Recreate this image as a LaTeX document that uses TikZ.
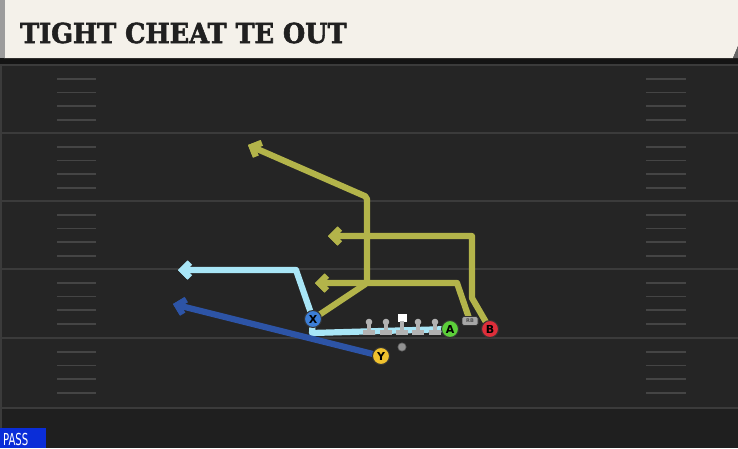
\documentclass[tikz,border=0pt]{standalone}
\usepackage{fontspec}
\setmainfont{DejaVu Sans}
\newfontfamily\titlefont{DejaVu Serif}[BoldFeatures={FakeBold=2.2}]
\newfontfamily\condfont{DejaVu Sans Condensed}
\usetikzlibrary{arrows.meta}
\definecolor{fieldc}{HTML}{252525}
\definecolor{bottomc}{HTML}{1F1F1F}
\definecolor{creamc}{HTML}{F4F1EA}
\definecolor{stripc}{HTML}{9C9C9C}
\definecolor{yardc}{HTML}{3B3B3B}
\definecolor{hashc}{HTML}{454545}
\definecolor{titlec}{HTML}{202020}
\definecolor{lblue}{HTML}{A9E6F7}
\definecolor{dblue}{HTML}{2D54A6}
\definecolor{olivec}{HTML}{B3B44A}
\definecolor{xcol}{HTML}{3C7ED6}
\definecolor{acol}{HTML}{5CCF3A}
\definecolor{bcol}{HTML}{DE2E3A}
\definecolor{ycol}{HTML}{F0C22E}
\definecolor{linec}{HTML}{B2B2B2}
\definecolor{passc}{HTML}{0A2DD8}
\tikzset{
  yard/.style={draw=yardc, line width=2pt},
  hash/.style={draw=hashc, line width=1.6pt},
  outl/.style={draw=black!85, line width=6.2pt, line join=round},
  rte/.style={line width=4.2pt, line join=round},
  tip/.style={-{Straight Barb[length=7.5pt,width=15pt]}},
  player/.style={circle, draw=black!80, line width=1pt, minimum size=17pt, inner sep=0pt,
    font=\bfseries\fontsize{11}{11}\selectfont, text=black},
  lineman/.style={fill=linec},
}
\newcommand\droute[2]{\draw[outl,#1] #2; \draw[rte,#1] #2;}
\begin{document}
\begin{tikzpicture}[x=1pt,y=-1pt]
\useasboundingbox (0,0) rectangle (738,448);
\fill[fieldc] (0,0) rectangle (738,448);
\fill[bottomc] (0,408) rectangle (738,448);
\draw[yardc, line width=1.5pt] (1,64) -- (1,448);
% yard lines and hashes
\foreach \yy in {65,133,201,269,338,408} {\draw[yard] (0,\yy) -- (738,\yy);}
\foreach \yy in {65,133,201,269,338} {
  \foreach \k in {1,2,3,4} {
    \draw[hash] (57,{\yy+13.7*\k}) -- (96,{\yy+13.7*\k});
    \draw[hash] (646,{\yy+13.7*\k}) -- (686,{\yy+13.7*\k});
  }
}
% banner
\fill[black!92] (0,57) rectangle (738,64);
\fill[creamc] (4,0) -- (738,0) -- (738,46) -- (733,58) -- (4,58) -- cycle;
\fill[black!60] (738,46) -- (738,58) -- (733,58) -- cycle;
\fill[stripc] (0,0) rectangle (4.5,58);
\node[anchor=base west, inner sep=0pt, text=titlec,
  font=\titlefont\bfseries\fontsize{27.5}{27.5}\selectfont] (title) at (20,43) {\scalebox{0.93}[1]{TIGHT CHEAT TE OUT}};
% players
\coordinate (Xp) at (313,319);
\coordinate (Ap) at (450,329);
\coordinate (Bp) at (490,329);
\coordinate (Yp) at (381,356);
\coordinate (RBp) at (470,321);
% waypoints
\coordinate (x1) at (296,270);
\coordinate (x2) at (178,270);
\coordinate (m1) at (312,333);
\coordinate (y1) at (173,304);
\coordinate (t1) at (367,283);
\coordinate (t2) at (367,197);
\coordinate (t3) at (248,145);
\coordinate (b1) at (472,298);
\coordinate (b2) at (472,236);
\coordinate (b3) at (328,236);
\coordinate (r1) at (457,283);
\coordinate (r2) at (315,283);
% routes
\droute{draw=lblue}{(Xp) -- (m1) -- (Ap)}
\droute{draw=olivec, tip}{(Bp) -- (b1) -- (b2) -- (b3)}
\droute{draw=olivec, tip}{(RBp) -- (r1) -- (r2)}
\droute{draw=olivec, tip, rounded corners=2pt}{(Xp) -- (t1) -- (t2) -- (t3)}
\droute{draw=lblue, tip}{(Xp) -- (x1) -- (x2)}
\droute{draw=dblue, tip}{(Yp) -- (y1)}
% linemen
\foreach \lx in {369,386,418,435} {
  \fill[lineman] (\lx,322) circle (3.3pt);
  \fill[lineman] (\lx-1.6,322) rectangle (\lx+1.6,331);
  \fill[lineman] (\lx-6,330) rectangle (\lx+6,335);
}
\fill[white] (397.5,314) rectangle (406.5,321.5);
\fill[lineman] (400.4,321) rectangle (403.6,331);
\fill[lineman] (396,330) rectangle (408,335);
\fill[black!60] (402,347) circle (4.5pt);
\fill[gray!85!white] (402,347) circle (3.6pt);
% skill players
\node[player, fill=xcol] (X) at (Xp) {X};
\node[player, fill=acol] (A) at (Ap) {A};
\node[player, fill=bcol] (B) at (Bp) {B};
\node[player, fill=ycol] (Y) at (Yp) {Y};
\node[draw=black!80, fill=gray!70, rounded corners=1.5pt, line width=0.8pt,
  minimum width=16pt, minimum height=9pt, inner sep=0pt, text=black!70,
  font=\bfseries\fontsize{5}{5}\selectfont] (RB) at (RBp) {RB};
% pass tag
\fill[passc] (0,428) rectangle (46,448);
\node[anchor=base west, inner sep=0pt, text=white,
  font=\condfont\fontsize{16.5}{16.5}\selectfont] (pass) at (3,445.5) {\scalebox{0.68}[1]{PASS}};
\end{tikzpicture}
\end{document}
